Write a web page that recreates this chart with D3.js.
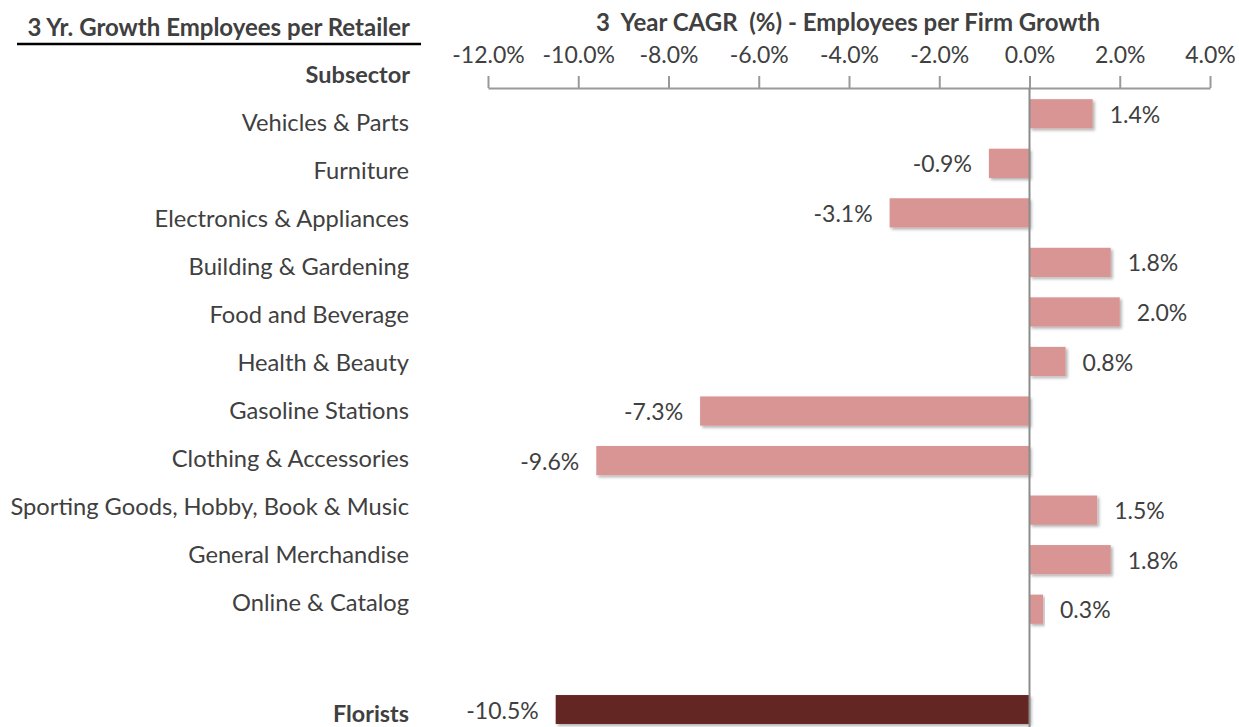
<!DOCTYPE html>
<html>
<head>
<meta charset="utf-8">
<script src="https://cdn.jsdelivr.net/npm/d3@7"></script>
<style>
  body { margin: 0; background: #fff; }
  svg { display: block; font-family: Lato, "Noto Sans", sans-serif; }
</style>
</head>
<body>
<div id="chart"></div>
<script>
// data
const subsectors = [
  "Vehicles & Parts", "Furniture", "Electronics & Appliances", "Building & Gardening",
  "Food and Beverage", "Health & Beauty", "Gasoline Stations", "Clothing & Accessories",
  "Sporting Goods, Hobby, Book & Music", "General Merchandise", "Online & Catalog"
];
const growth = [1.4, -0.9, -3.1, 1.8, 2.0, 0.8, -7.3, -9.6, 1.5, 1.8, 0.3];
const highlightSubsector = ["Florists"];
const highlightGrowth = [-10.5];
const tickValues = [-12, -10, -8, -6, -4, -2, 0, 2, 4];

const width = 1239, height = 727;
const textColor = "#404040";

const svg = d3.select("#chart")
              .append("svg")
              .attr("width", width)
              .attr("height", height);

// drop shadow for bars
const defs = svg.append("defs");
defs.append("filter")
    .attr("id", "shadow")
    .attr("x", "-5%").attr("y", "-20%")
    .attr("width", "115%").attr("height", "160%")
    .append("feDropShadow")
    .attr("dx", 2).attr("dy", 2)
    .attr("stdDeviation", 1.5)
    .attr("flood-color", "#000")
    .attr("flood-opacity", 0.3);

// scales
const x = d3.scaleLinear().domain([-12, 4]).range([488, 1210]);

const yBar = d3.scaleBand()
               .domain(subsectors)
               .range([89, 634])
               .paddingInner(0.41)
               .paddingOuter(0.205);

const yLabel = d3.scaleBand()
                 .domain(subsectors)
                 .range([99, 627]);

const yHi = d3.scaleBand()
              .domain(highlightSubsector)
              .range([685, 734])
              .paddingInner(0.41)
              .paddingOuter(0.205);

// left header
svg.append("text")
   .attr("x", 410).attr("y", 36)
   .attr("text-anchor", "end")
   .style("font-size", "24px")
   .style("font-weight", "bold")
   .attr("fill", textColor)
   .text("3 Yr. Growth Employees per Retailer");

svg.append("line")
   .attr("x1", 17).attr("x2", 421)
   .attr("y1", 44).attr("y2", 44)
   .attr("stroke", "#000")
   .attr("stroke-width", 2.5);

svg.append("text")
   .attr("x", 410).attr("y", 83)
   .attr("text-anchor", "end")
   .style("font-size", "23.5px")
   .style("font-weight", "bold")
   .attr("fill", textColor)
   .text("Subsector");

// chart title
svg.append("text")
   .attr("x", 848).attr("y", 31)
   .attr("text-anchor", "middle")
   .style("font-size", "24px")
   .style("font-weight", "bold")
   .style("white-space", "pre")
   .attr("fill", textColor)
   .text("3  Year CAGR  (%) - Employees per Firm Growth");

// x axis on top
const axis = svg.append("g")
   .attr("transform", "translate(0,88)")
   .call(d3.axisTop(x)
           .tickValues(tickValues)
           .tickSize(12)
           .tickSizeOuter(0)
           .tickPadding(13)
           .tickFormat(d => d.toFixed(1) + "%"));

axis.select(".domain").attr("stroke", "#999").attr("stroke-width", 2);
axis.selectAll(".tick line").attr("stroke", "#999").attr("stroke-width", 2);
axis.selectAll(".tick text")
    .attr("fill", textColor)
    .style("font-size", "23px")
    .style("font-family", "Lato, sans-serif");

// subsector labels
svg.append("g")
   .selectAll("text")
   .data(subsectors)
   .join("text")
   .attr("x", 409)
   .attr("y", d => yLabel(d) + yLabel.bandwidth() / 2)
   .attr("dy", "0.35em")
   .attr("text-anchor", "end")
   .attr("fill", textColor)
   .style("font-size", "23.7px")
   .text(d => d);

svg.append("text")
   .attr("x", 409)
   .attr("y", yHi(highlightSubsector[0]) + yHi.bandwidth() / 2 + 4)
   .attr("dy", "0.35em")
   .attr("text-anchor", "end")
   .attr("fill", textColor)
   .style("font-size", "23.3px")
   .style("font-weight", "bold")
   .text(highlightSubsector[0]);

// bars
const rows = subsectors.map((s, i) => ({name: s, value: growth[i]}));
const hiRows = highlightSubsector.map((s, i) => ({name: s, value: highlightGrowth[i]}));

svg.append("g")
   .selectAll("rect")
   .data(rows)
   .join("rect")
   .attr("x", d => x(Math.min(0, d.value)))
   .attr("y", d => yBar(d.name))
   .attr("width", d => Math.abs(x(d.value) - x(0)))
   .attr("height", yBar.bandwidth())
   .attr("fill", "#D99594")
   .attr("filter", "url(#shadow)");

svg.append("g")
   .selectAll("rect")
   .data(hiRows)
   .join("rect")
   .attr("x", d => x(Math.min(0, d.value)))
   .attr("y", d => yHi(d.name))
   .attr("width", d => Math.abs(x(d.value) - x(0)))
   .attr("height", yHi.bandwidth())
   .attr("fill", "#632523")
   .attr("filter", "url(#shadow)");

// value labels
function valueLabels(data, yScale) {
  svg.append("g")
     .selectAll("text")
     .data(data)
     .join("text")
     .attr("x", d => d.value >= 0 ? x(d.value) + 17 : x(d.value) - 17)
     .attr("y", d => yScale(d.name) + yScale.bandwidth() / 2 + 1)
     .attr("dy", "0.35em")
     .attr("text-anchor", d => d.value >= 0 ? "start" : "end")
     .attr("fill", textColor)
     .style("font-size", "23px")
     .text(d => d.value.toFixed(1) + "%");
}
valueLabels(rows, yBar);
valueLabels(hiRows, yHi);

// zero line
svg.append("line")
   .attr("x1", x(0)).attr("x2", x(0))
   .attr("y1", 88).attr("y2", height)
   .attr("stroke", "#8c8c8c")
   .attr("stroke-width", 2);
</script>
</body>
</html>
